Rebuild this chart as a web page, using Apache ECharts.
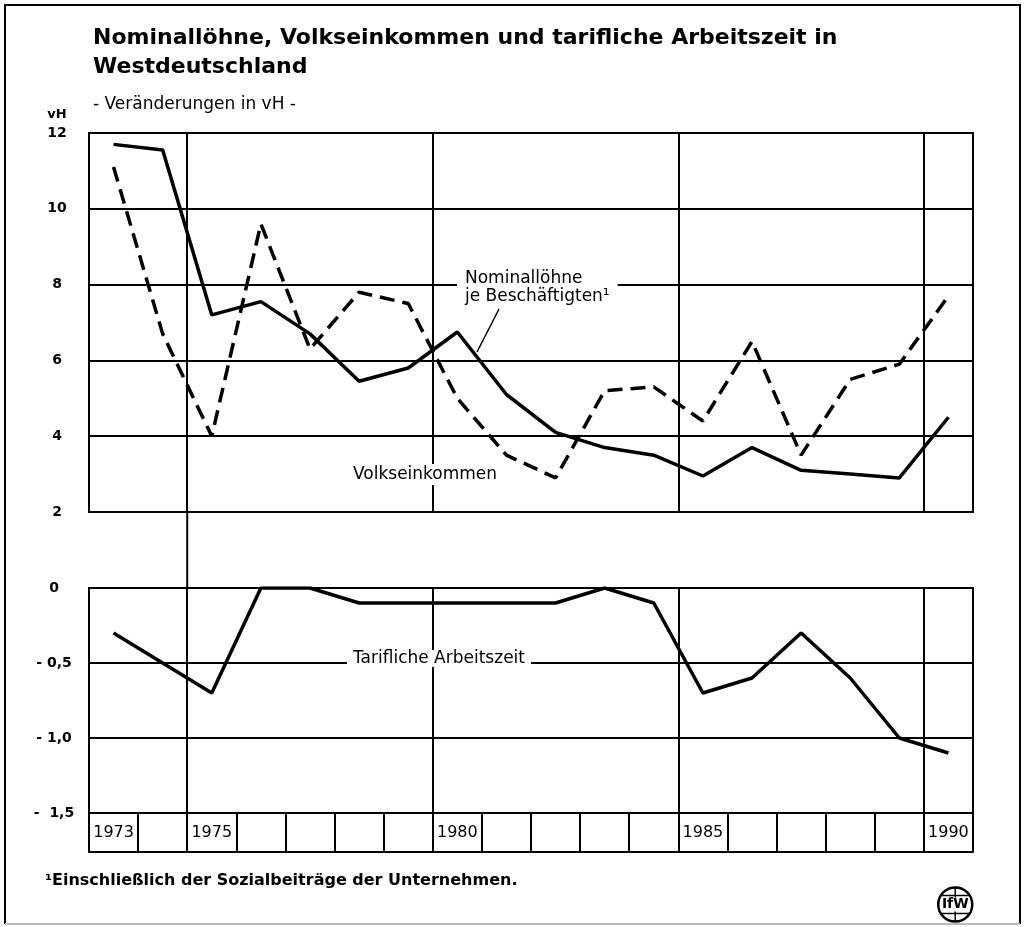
<!DOCTYPE html>
<html>
<head>
<meta charset="utf-8">
<title>Nominallöhne, Volkseinkommen und tarifliche Arbeitszeit in Westdeutschland</title>
<script src="https://cdn.jsdelivr.net/npm/echarts@6/dist/echarts.min.js"></script>
<style>
  html, body { margin: 0; padding: 0; background: #fff; }
  #chart { width: 1025px; height: 927px; }
</style>
</head>
<body>
<div id="chart"></div>
<script>
// Jahre (Kategorien)
const years = ['1973', '1974', '1975', '1976', '1977', '1978', '1979', '1980', '1981',
  '1982', '1983', '1984', '1985', '1986', '1987', '1988', '1989', '1990']
// Jahre mit Beschriftung / senkrechter Gitterlinie
const labelYears = ['1973', '1975', '1980', '1985', '1990']
const gridYears = ['1975', '1980', '1985', '1990']

// Veränderungen in vH
const volkseinkommen = [11.7, 11.55, 7.2, 7.55, 6.7, 5.45, 5.8, 6.75, 5.1, 4.1,
  3.7, 3.5, 2.95, 3.7, 3.1, 3.0, 2.9, 4.5]
const nominalloehne = [11.1, 6.7, 4.0, 9.6, 6.3, 7.8, 7.5, 5.0, 3.5, 2.9,
  5.2, 5.3, 4.4, 6.5, 3.5, 5.5, 5.9, 7.7]
const arbeitszeit = [-0.3, -0.5, -0.7, 0, 0, -0.1, -0.1, -0.1, -0.1, -0.1,
  0, -0.1, -0.7, -0.6, -0.3, -0.6, -1.0, -1.1]

// Achsenbeschriftungen
const topTickValues = [2, 4, 6, 8, 10, 12]
const topTickLabels = ['2', '4', '6', '8', '10', '12']
const bottomTickValues = [-1.5, -1.0, -0.5, 0]
const bottomTickLabels = ['-  1,5', '- 1,0', '- 0,5', '0']

const font = 'DejaVu Sans'
const black = '#000'

function tickLabel(values, labels) {
  return function(v) {
    const i = values.findIndex(t => Math.abs(t - v) < 1e-9)
    return i >= 0 ? labels[i] : ''
  }
}

const chart = echarts.init(document.getElementById('chart'))

const splitLineX = {
  show: true,
  interval: (index, value) => gridYears.includes(value),
  lineStyle: { color: black, width: 2 }
}

chart.setOption({
  animation: false,
  backgroundColor: '#fff',
  title: {
    text: 'Nominallöhne, Volkseinkommen und tarifliche Arbeitszeit in\nWestdeutschland',
    subtext: '- Veränderungen in vH -',
    left: 88,
    top: 19,
    itemGap: 14,
    textStyle: {
      color: black,
      fontFamily: font,
      fontWeight: 'bold',
      fontSize: 22,
      lineHeight: 29
    },
    subtextStyle: {
      color: black,
      fontFamily: font,
      fontSize: 17
    }
  },
  grid: [
    { left: 89, right: 52, top: 133, height: 379, show: true, borderColor: black, borderWidth: 2 },
    { left: 89, right: 52, top: 588, height: 225, show: true, borderColor: black, borderWidth: 2 }
  ],
  xAxis: [
    {
      type: 'category',
      gridIndex: 0,
      data: years,
      boundaryGap: true,
      axisLine: { show: false, onZero: false },
      axisTick: { show: false },
      axisLabel: { show: false },
      splitLine: splitLineX
    },
    {
      type: 'category',
      gridIndex: 1,
      data: years,
      boundaryGap: true,
      position: 'bottom',
      axisLine: { show: true, onZero: false, lineStyle: { color: black, width: 2 } },
      axisTick: { show: true, interval: 0, length: 39, lineStyle: { color: black, width: 2 } },
      axisLabel: {
        interval: (index, value) => labelYears.includes(value),
        margin: 12,
        color: black,
        fontFamily: font,
        fontSize: 16
      },
      splitLine: splitLineX
    },
    {
      // untere Linie der Jahreskästchen
      type: 'category',
      gridIndex: 1,
      data: years,
      position: 'bottom',
      offset: 39,
      axisLine: { show: true, onZero: false, lineStyle: { color: black, width: 2 } },
      axisTick: { show: false },
      axisLabel: { show: false },
      splitLine: { show: false }
    }
  ],
  yAxis: [
    {
      type: 'value',
      gridIndex: 0,
      min: 2,
      max: 12,
      interval: 2,
      name: 'vH',
      nameLocation: 'end',
      nameGap: 12,
      nameTextStyle: {
        color: black,
        fontFamily: font,
        fontWeight: 'bold',
        fontSize: 13,
        align: 'center',
        padding: [0, 0, 0, -64]
      },
      axisLine: { show: true, lineStyle: { color: black, width: 2 } },
      axisTick: { show: false },
      axisLabel: {
        formatter: tickLabel(topTickValues, topTickLabels),
        align: 'center',
        margin: 32,
        color: black,
        fontFamily: font,
        fontWeight: 'bold',
        fontSize: 14
      },
      splitLine: { show: true, lineStyle: { color: black, width: 2 } }
    },
    {
      type: 'value',
      gridIndex: 1,
      min: -1.5,
      max: 0,
      interval: 0.5,
      axisLine: { show: true, onZero: false, lineStyle: { color: black, width: 2 } },
      axisTick: { show: false },
      axisLabel: {
        formatter: tickLabel(bottomTickValues, bottomTickLabels),
        align: 'center',
        margin: 35,
        color: black,
        fontFamily: font,
        fontWeight: 'bold',
        fontSize: 14
      },
      splitLine: { show: true, lineStyle: { color: black, width: 2 } }
    }
  ],
  series: [
    {
      name: 'Volkseinkommen',
      type: 'line',
      xAxisIndex: 0,
      yAxisIndex: 0,
      data: volkseinkommen,
      symbol: 'none',
      lineStyle: { color: black, width: 3.5 },
      z: 5
    },
    {
      name: 'Nominallöhne je Beschäftigten',
      type: 'line',
      xAxisIndex: 0,
      yAxisIndex: 0,
      data: nominalloehne,
      symbol: 'none',
      lineStyle: { color: black, width: 3.5, type: [15, 8] },
      z: 5
    },
    {
      name: 'Tarifliche Arbeitszeit',
      type: 'line',
      xAxisIndex: 1,
      yAxisIndex: 1,
      data: arbeitszeit,
      symbol: 'none',
      lineStyle: { color: black, width: 3.5 },
      z: 5
    }
  ]
})

// senkrechte Linie 1975 zwischen den beiden Teilen, Beschriftungen, Rahmen
const band = (chart.convertToPixel({ xAxisIndex: 0 }, '1974') - chart.convertToPixel({ xAxisIndex: 0 }, '1973'))
const x1975 = chart.convertToPixel({ xAxisIndex: 0 }, '1975') - band / 2
const yTopBottom = chart.convertToPixel({ yAxisIndex: 0 }, 2)
const yBottomTop = chart.convertToPixel({ yAxisIndex: 1 }, 0)

const labelStyle = { fill: black, font: '17px "DejaVu Sans"', backgroundColor: '#fff' }

chart.setOption({
  graphic: [
    {
      type: 'line',
      shape: { x1: x1975, y1: yTopBottom, x2: x1975, y2: yBottomTop },
      style: { stroke: black, lineWidth: 2 }
    },
    {
      type: 'text',
      left: 457,
      top: 270,
      z: 10,
      style: Object.assign({}, labelStyle, {
        text: 'Nominallöhne\nje Beschäftigten¹',
        lineHeight: 18,
        padding: [0, 8, 0, 8]
      })
    },
    {
      type: 'line',
      z: 10,
      shape: { x1: 499, y1: 309, x2: 477, y2: 352 },
      style: { stroke: black, lineWidth: 1.5 }
    },
    {
      type: 'text',
      left: 349,
      top: 464,
      z: 10,
      style: Object.assign({}, labelStyle, {
        text: 'Volkseinkommen',
        padding: [2, 4, 2, 4]
      })
    },
    {
      type: 'text',
      left: 347,
      top: 650,
      z: 10,
      style: Object.assign({}, labelStyle, {
        text: 'Tarifliche Arbeitszeit',
        padding: [0, 6, 0, 6]
      })
    },
    {
      type: 'text',
      left: 45,
      top: 873,
      style: {
        text: '¹Einschließlich der Sozialbeiträge der Unternehmen.',
        fill: black,
        font: 'bold 16px "DejaVu Sans"'
      }
    },
    {
      type: 'group',
      left: 937,
      top: 885,
      children: [
        { type: 'circle', shape: { cx: 18, cy: 18, r: 17 }, style: { fill: '#fff', stroke: black, lineWidth: 2.5 } },
        { type: 'line', shape: { x1: 18, y1: 1, x2: 18, y2: 35 }, style: { stroke: black, lineWidth: 1.5 } },
        { type: 'line', shape: { x1: 4, y1: 9, x2: 32, y2: 9 }, style: { stroke: black, lineWidth: 1.5 } },
        { type: 'line', shape: { x1: 4, y1: 27, x2: 32, y2: 27 }, style: { stroke: black, lineWidth: 1.5 } },
        {
          type: 'text',
          style: {
            text: 'IfW',
            x: 18,
            y: 18,
            align: 'center',
            verticalAlign: 'middle',
            fill: black,
            font: 'bold 14px "DejaVu Sans"',
            backgroundColor: '#fff',
            padding: [0, 1]
          }
        }
      ]
    },
    {
      type: 'polyline',
      shape: { points: [[5, 924], [5, 5], [1020, 5], [1020, 924]] },
      style: { stroke: black, lineWidth: 2, fill: null }
    },
    {
      type: 'line',
      shape: { x1: 5, y1: 924, x2: 1020, y2: 924 },
      style: { stroke: '#bbb', lineWidth: 2 }
    }
  ]
})
</script>
</body>
</html>
